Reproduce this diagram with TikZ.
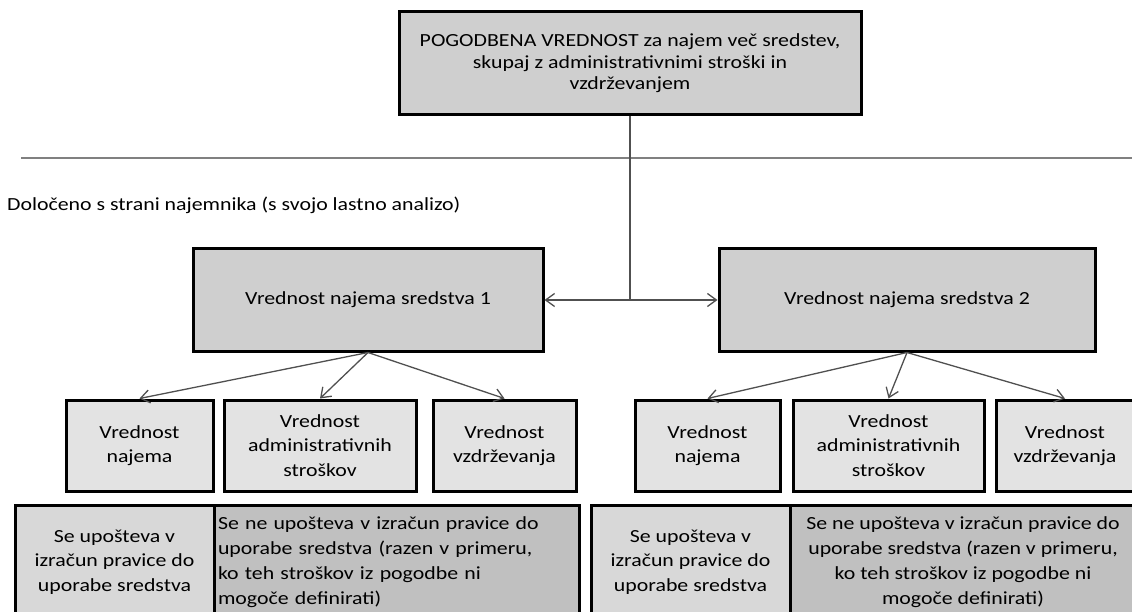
\documentclass[tikz,border=0pt]{standalone}
\usepackage{fontspec}
\setmainfont{Carlito}[FakeStretch=1.18]
\usetikzlibrary{arrows.meta}
\definecolor{topgray}{HTML}{CFCFCF}
\definecolor{smallgray}{HTML}{E3E3E3}
\definecolor{cellA}{HTML}{D8D8D8}
\definecolor{cellB}{HTML}{C0C0C0}
\definecolor{linegray}{HTML}{505050}
\begin{document}
\begin{tikzpicture}[x=1pt,y=-1pt,
  box/.style={draw=black, line width=3pt, inner sep=0pt, align=center,
    font=\fontsize{18.5}{24.5}\selectfont},
  mainbox/.style={box, fill=topgray, minimum height=102pt},
  smallbox/.style={box, fill=smallgray, minimum height=91pt},
  cellin/.style={box, fill=cellA, minimum height=114pt, minimum width=199pt, font=\fontsize{18.5}{24.5}\selectfont},
  cellout/.style={box, fill=cellB, minimum height=114pt, font=\fontsize{18.5}{25}\selectfont},
  conn/.style={draw=linegray, line width=1.3pt},
  arr/.style={conn, -{Straight Barb[length=9pt,width=13pt,line width=1.3pt]}}
]
\useasboundingbox (0,0) rectangle (1132,612);
\clip (0,0) rectangle (1132,612);

% top box
\node[box, fill=topgray, minimum width=462pt, minimum height=103pt,
  font=\fontsize{18.5}{21.5}\selectfont] (top) at (630,63.5)
  {POGODBENA VREDNOST za najem več sredstev,\\skupaj z administrativnimi stroški in\\vzdrževanjem};

% separator line and label
\coordinate (sepL) at (21,158);
\coordinate (sepR) at (1132,158);
\draw[draw=gray, line width=1.5pt] (sepL) -- (sepR);
\node[anchor=west, inner sep=0pt, font=\fontsize{18.5}{22}\selectfont] (lbl) at (7,205)
  {Določeno s strani najemnika (s svojo lastno analizo)};

% main boxes
\node[mainbox, minimum width=350pt] (m1) at (368,300) {Vrednost najema sredstva 1};
\node[mainbox, minimum width=376pt] (m2) at (907,300) {Vrednost najema sredstva 2};

\coordinate (j) at (top.south |- m1.east);
\draw[conn] (top.south) -- (j);
\draw[arr] (j) -- (m1.east);
\draw[arr] (j) -- (m2.west);

% small boxes
\node[smallbox, minimum width=147pt] (a1) at (139.5,445.5) {Vrednost\\najema};
\node[smallbox, minimum width=192pt] (b1) at (320,445.5) {Vrednost\\administrativnih\\stroškov};
\node[smallbox, minimum width=143pt] (c1) at (504.5,445.5) {Vrednost\\vzdrževanja};
\node[smallbox, minimum width=145pt] (a2) at (707.5,445.5) {Vrednost\\najema};
\node[smallbox, minimum width=191pt] (b2) at (888.5,445.5) {Vrednost\\administrativnih\\stroškov};
\node[smallbox, minimum width=138pt] (c2) at (1065,445.5) {Vrednost\\vzdrževanja};

\draw[arr] (m1.south) -- (a1.north);
\draw[arr] (m1.south) -- (b1.north);
\draw[arr] (m1.south) -- (c1.north);
\draw[arr] (m2.south) -- (a2.north);
\draw[arr] (m2.south) -- (b2.north);
\draw[arr] (m2.south) -- (c2.north);

% bottom cells
\node[cellin] (in1) at (114.5,562) {Se upošteva v\\izračun pravice do\\uporabe sredstva};
\node[cellout, minimum width=365pt, text width=357pt, align=left] (out1) at (396.5,562)
  {Se ne upošteva v izračun pravice do\\uporabe sredstva (razen v primeru,\\ko teh stroškov iz pogodbe ni\\mogoče definirati)};
\node[cellin] (in2) at (690.5,562) {Se upošteva v\\izračun pravice do\\uporabe sredstva};
\node[cellout, minimum width=346pt] (out2) at (963,562)
  {Se ne upošteva v izračun pravice do\\uporabe sredstva (razen v primeru,\\ko teh stroškov iz pogodbe ni\\mogoče definirati)};
\end{tikzpicture}
\end{document}
